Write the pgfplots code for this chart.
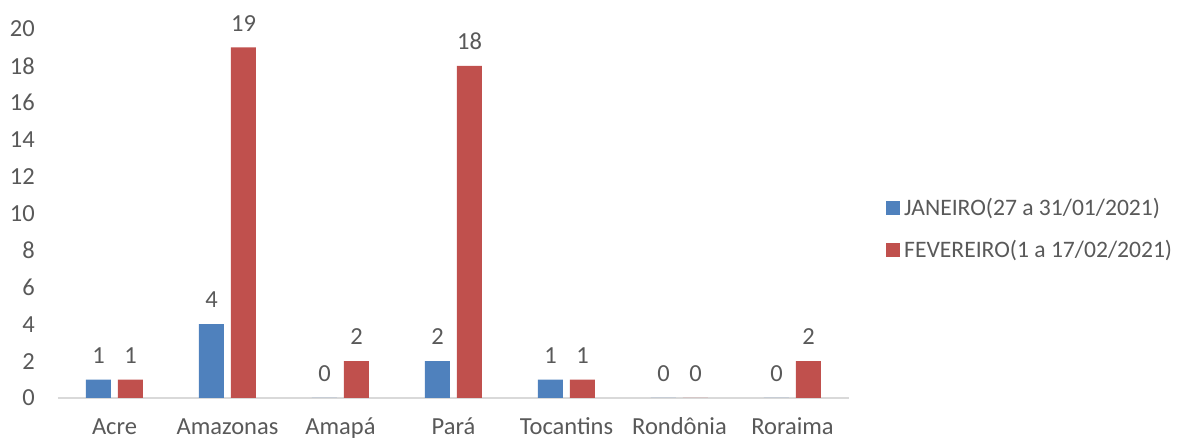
\documentclass[border=0pt]{standalone}
\usepackage{pgfplots}
\pgfplotsset{compat=1.18}
\usepackage{fontspec}
\setmainfont{Carlito}
\definecolor{jan}{HTML}{4F81BD}
\definecolor{fev}{HTML}{C0504D}
\definecolor{txt}{HTML}{595959}
\definecolor{axc}{HTML}{D9D9D9}
\newcommand{\cf}{\fontsize{24.5}{29}\selectfont}
\newcommand{\lf}{\fontsize{23.6}{28}\selectfont}
\begin{document}
\begin{tikzpicture}[x=1pt,y=1pt]
\path[use as bounding box] (0,0) rectangle (1179,439);
\begin{axis}[
  at={(58pt,41pt)}, anchor=south west,
  scale only axis, width=791pt, height=369pt,
  xmin=-0.5, xmax=6.5, ymin=0, ymax=20,
  ybar=7pt, bar width=25pt,
  xtick={0,...,6},
  xticklabels={Acre,Amazonas,Amapá,Pará,Tocantins,Rondônia,Roraima},
  ytick={0,2,...,20},
  major tick length=0,
  axis x line*=bottom, axis y line*=left,
  y axis line style={draw=none},
  x axis line style={draw=axc, line width=1.3pt, -},
  /pgf/number format/assume math mode=true,
  tick label style={font=\cf, text=txt, inner sep=0pt},
  yticklabel style={anchor=east, xshift=-23pt},
  xticklabel style={anchor=base, yshift=-37pt},
  clip=false,
  nodes near coords,
  every node near coord/.append style={font=\cf, text=txt, inner sep=0pt, anchor=south, yshift=16pt},
  legend image code/.code={\fill[#1] (0pt,-7pt) rectangle (14pt,7pt);},
  legend style={at={(1.0468,0.459)}, anchor=west, draw=none, fill=none, font=\lf, text=txt,
    row sep=23pt, column sep=4pt, inner sep=0pt, nodes={inner sep=0pt}},
  legend cell align=left,
]
\addplot[draw=none, fill=jan] coordinates {(0,1) (1,4) (2,0) (3,2) (4,1) (5,0) (6,0)};
\addplot[draw=none, fill=fev] coordinates {(0,1) (1,19) (2,2) (3,18) (4,1) (5,0) (6,2)};
\legend{JANEIRO(27 a 31/01/2021), FEVEREIRO(1 a 17/02/2021)}
\end{axis}
\end{tikzpicture}
\end{document}
